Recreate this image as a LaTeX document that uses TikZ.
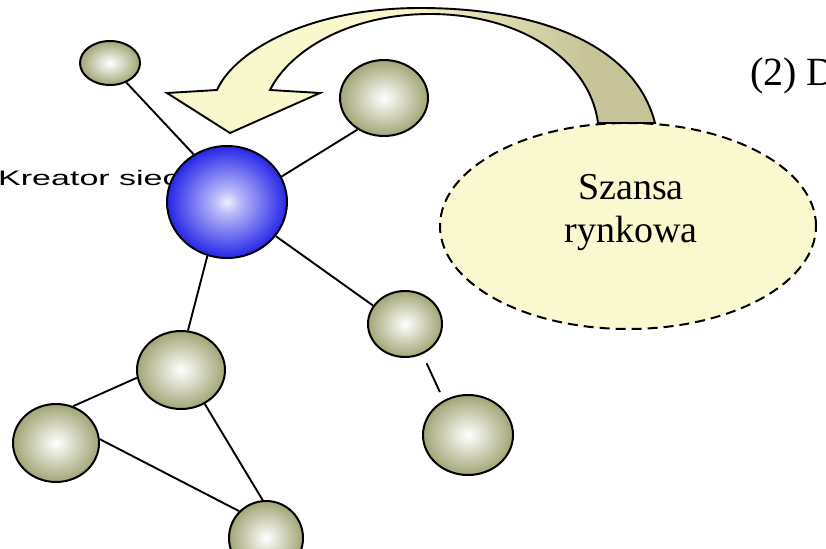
\documentclass[tikz,border=0pt]{standalone}
\usepackage{fontspec}
\setmainfont{Liberation Serif}
\newfontfamily\arialf{Liberation Sans}
\usetikzlibrary{shapes.geometric}
\definecolor{sphereolive}{RGB}{158,162,112}
\definecolor{sphererim}{RGB}{112,116,74}
\definecolor{sphereblue}{RGB}{30,30,232}
\definecolor{blueinner}{RGB}{240,240,255}
\definecolor{bluerim}{RGB}{15,15,150}
\definecolor{paleyellow}{RGB}{249,247,204}
\definecolor{arrowtan}{RGB}{198,196,152}
\definecolor{ellfill}{RGB}{250,248,206}
\pgfdeclareradialshading{olivesphere}{\pgfpoint{0bp}{0bp}}{color(0bp)=(white); color(4bp)=(white!85!sphereolive); color(26bp)=(sphereolive); color(44bp)=(sphereolive); color(50bp)=(sphererim); color(60bp)=(sphererim)}
\pgfdeclareradialshading{bluesphere}{\pgfpoint{0bp}{0bp}}{color(0bp)=(blueinner); color(5bp)=(blueinner!75!sphereblue); color(26bp)=(sphereblue); color(44bp)=(sphereblue); color(50bp)=(bluerim); color(60bp)=(bluerim)}
\pgfdeclarehorizontalshading{arrowshade}{100bp}{color(0bp)=(paleyellow); color(48bp)=(paleyellow); color(68bp)=(arrowtan); color(100bp)=(arrowtan)}
\tikzset{
  sphere/.style={ellipse, draw=black, line width=2pt, shading=olivesphere, inner sep=0pt},
  bluesph/.style={ellipse, draw=black, line width=2pt, shading=bluesphere, inner sep=0pt},
  link/.style={draw=black, line width=1.9pt},
  chance/.style={ellipse, draw=black, dash pattern=on 10pt off 6pt, line width=2pt, fill=ellfill, inner sep=0pt},
  bigarrow/.style={draw=black, line width=1.9pt, shading=arrowshade, line join=miter}
}
\begin{document}
\begin{tikzpicture}[x=1pt,y=-1pt]
\useasboundingbox (0,0) rectangle (826,548);
\clip (0,0) rectangle (826,548);
\fill[white] (0,0) rectangle (826,548);
% label behind the creator node
\node[anchor=base west, inner sep=0pt, font=\arialf\fontsize{21}{25}\selectfont] (kreator) at (-2,185) {\scalebox{1.62}[1]{Kreator sieci}};
% market chance ellipse
\node[chance, minimum width=376pt, minimum height=206pt] (szansa) at (628,226) {};
\node[inner sep=0pt, align=center, font=\fontsize{38}{43}\selectfont] (szansatxt) at (631,213) {Szansa\\rynkowa};
% curved arrow
\path[bigarrow] (655,123) .. controls (635,45) and (540,8) .. (420,8)
  .. controls (310,8) and (235,50) .. (217,90) -- (167,93) -- (230,133) -- (320,93) -- (270,90)
  .. controls (290,50) and (350,14) .. (430,14)
  .. controls (520,14) and (590,60) .. (598,123) -- cycle;
% right text
\node[anchor=base west, inner sep=0pt, font=\fontsize{40}{46}\selectfont] (two) at (750,86) {(2) D};
% nodes
\node[sphere, minimum width=60pt, minimum height=44pt] (n1) at (110,63) {};
\node[sphere, minimum width=88pt, minimum height=76pt] (n2) at (384,98) {};
\node[bluesph, minimum width=120pt, minimum height=112pt] (blue) at (227,202) {};
\node[sphere, minimum width=74pt, minimum height=66pt] (n3) at (405,324) {};
\node[sphere, minimum width=90pt, minimum height=80pt] (n4) at (468,435) {};
\node[sphere, minimum width=88pt, minimum height=78pt] (n5) at (181,370) {};
\node[sphere, minimum width=86pt, minimum height=78pt] (n6) at (56,443) {};
\node[sphere, minimum width=74pt, minimum height=74pt] (n7) at (266,538) {};
% links
\draw[link] (n1.-50) -- (blue.125);
\draw[link] (n2.230) -- (blue.25);
\draw[link] (blue.-35) -- (n3.150);
\draw[link, shorten <=10pt, shorten >=9pt] (n3.-60) -- (n4.125);
\draw[link] (blue.-110) -- (n5.80);
\draw[link] (n5.190) -- (n6.65);
\draw[link] (n5.-55) -- (n7.95);
\draw[link] (n6.5) -- (n7.135);
\end{tikzpicture}
\end{document}
